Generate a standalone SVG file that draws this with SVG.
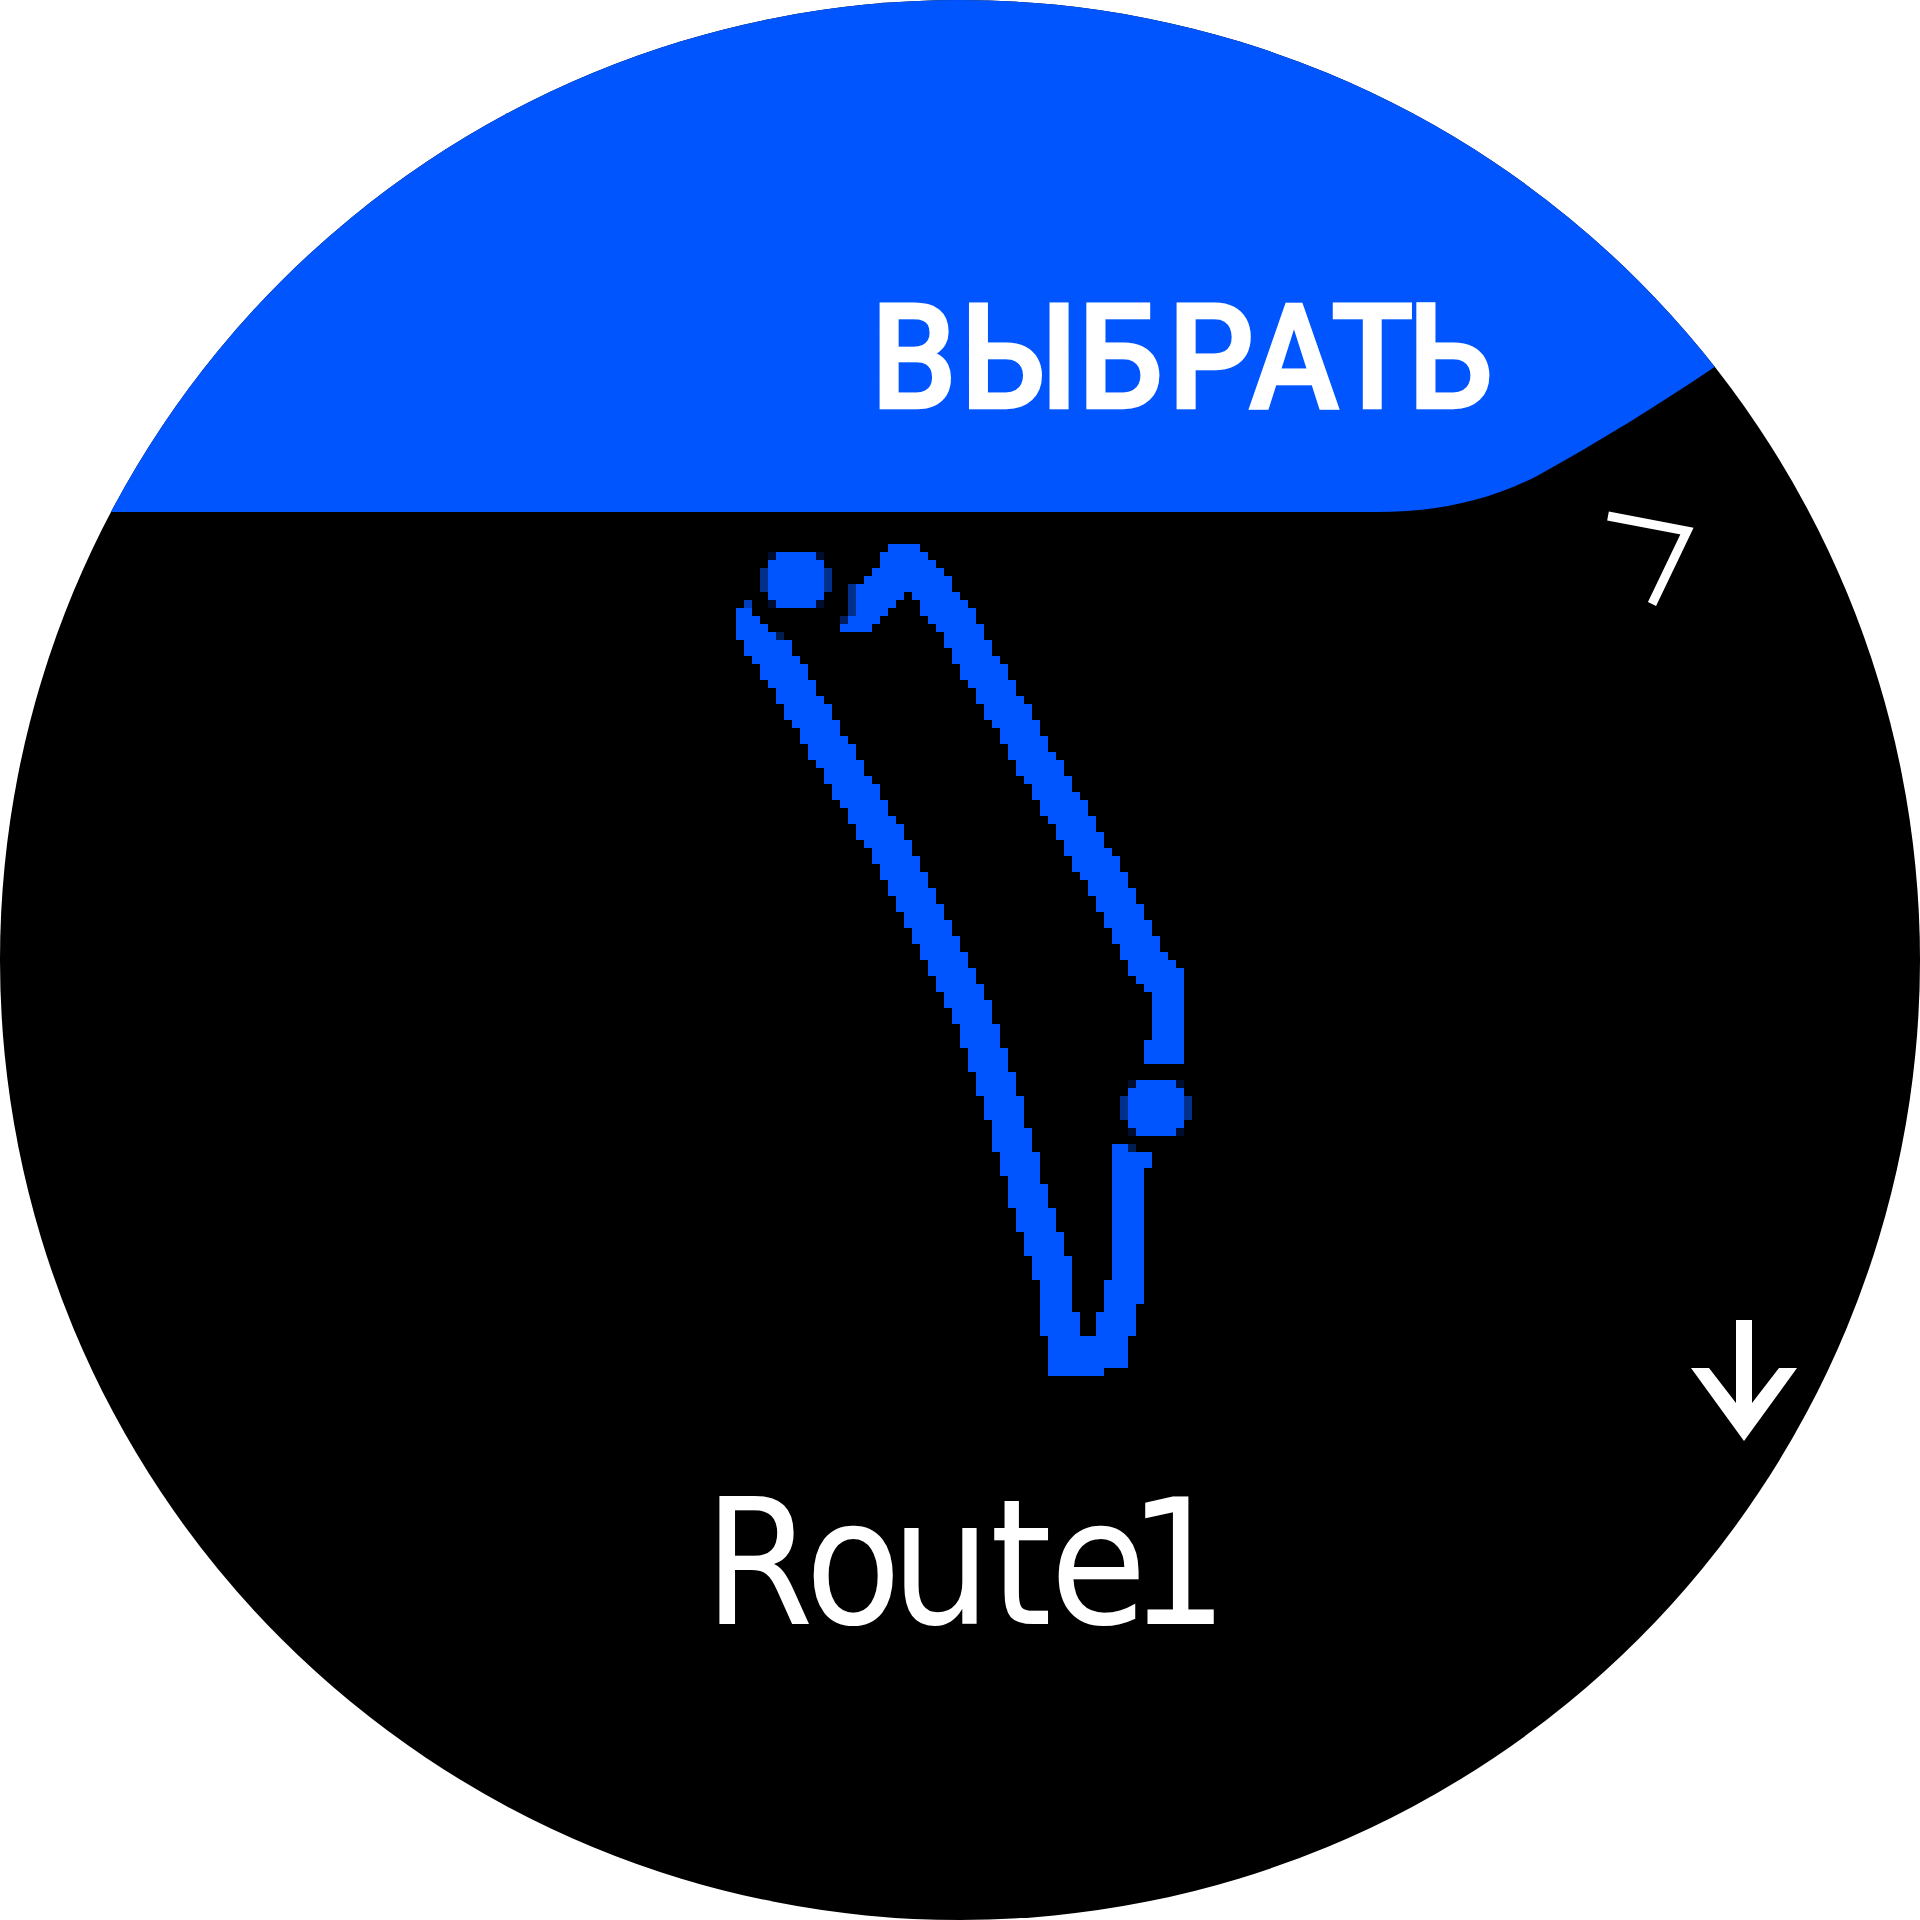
<svg xmlns="http://www.w3.org/2000/svg" width="1920" height="1920" viewBox="0 0 1920 1920">
<style>
.b{fill:#0055ff}
.ic{fill:none;stroke:#fff;stroke-linejoin:miter}
.t{fill:#fff}
</style>
<defs>
<clipPath id="face"><circle cx="960" cy="960" r="960"/></clipPath>
<g id="dot">
<path class="b" d="M8 0H48V8H56V48H48V56H8V48H0V8H8Z"/>
<path fill="#00308c" d="M-8 16H0V40H-8ZM56 16H64V40H56Z"/>
<path fill="#000c30" d="M0 0H8V8H0ZM48 0H56V8H48ZM0 48H8V56H0ZM48 48H56V56H48Z"/>
</g>
</defs>
<rect width="1920" height="1920" fill="#fff"/>
<circle cx="960" cy="960" r="960" fill="#000"/>
<g clip-path="url(#face)">
<path class="b" d="M0 0H1920V200L1716 366C1660 404 1600 441 1537 476C1490 500 1440 512 1376 512H0Z"/>
</g>
<text class="t" id="select" transform="scale(0.93 1)" y="408" font-family="'Roboto','Liberation Sans',sans-serif" font-weight="500" font-size="146" stroke="#fff" stroke-width="2.5" x="936.6 1032.3 1159.1 1255.9 1343 1431.2 1514">ВЫБРАТЬ</text>
<g id="route">
<path class="b" d="M888 544H920V552H928V560H936V568H944V576H952V592H960V600H968V608H976V624H984V640H992V656H1000V664H1008V680H1016V696H1024V704H1032V720H1040V736H1048V752H1056V760H1064V776H1072V792H1080V800H1088V816H1096V832H1104V848H1112V856H1120V872H1128V888H1136V904H1144V920H1152V936H1160V952H1168V960H1176V968H1184V1064H1144V1040H1152V992H1144V984H1136V976H1128V960H1120V944H1112V928H1104V912H1096V896H1088V880H1080V872H1072V856H1064V840H1056V824H1048V816H1040V800H1032V784H1024V776H1016V760H1008V744H1000V728H992V720H984V704H976V688H968V680H960V664H952V648H944V632H936V624H928V616H920V600H912V592H904V600H896V608H888V616H880V624H872V632H840V624H848V616H856V584H864V576H872V568H880V552H888Z"/>
<path fill="#00308c" d="M848 584H856V616H848Z"/>
<path fill="#001e60" d="M840 616H848V624H840Z"/>
<path class="b" d="M736 608H752V616H760V624H768V632H776V640H792V656H800V664H808V680H816V696H824V704H832V720H840V736H848V744H856V760H864V776H872V784H880V800H888V816H896V824H904V840H912V856H920V872H928V888H936V904H944V920H952V936H960V952H968V968H976V984H984V1000H992V1024H1000V1048H1008V1072H1016V1096H1024V1128H1032V1152H1040V1184H1048V1208H1056V1232H1064V1256H1072V1312H1080V1336H1096V1312H1104V1280H1112V1144H1128V1152H1152V1168H1144V1304H1136V1336H1128V1368H1104V1376H1048V1336H1040V1280H1032V1256H1024V1232H1016V1208H1008V1176H1000V1152H992V1120H984V1096H976V1072H968V1048H960V1024H952V1008H944V992H936V976H928V960H920V944H912V928H904V912H896V896H888V880H880V864H872V848H864V840H856V824H848V808H840V800H832V784H824V768H816V760H808V744H800V728H792V720H784V704H776V688H768V680H760V664H752V656H744V640H736Z"/>
<path fill="#0040c0" d="M744 600H752V608H744Z"/>
<path fill="#001e50" d="M1128 1144H1136V1152H1128ZM776 632H784V640H776Z"/>
<use href="#dot" x="768" y="552"/>
<use href="#dot" x="1128" y="1080"/>
</g>
<text class="t" id="name" y="1624" font-family="'DejaVu Sans Condensed','DejaVu Sans',sans-serif" font-size="175" x="704 805 891 990 1050 1128">Route1</text>
<path class="ic" id="up-right" stroke-width="9" d="M1608 516L1687 531L1652 604"/>
<g id="down">
<path fill="#fff" d="M1736 1320H1752V1420H1736Z"/>
<path fill="#fff" d="M1691 1368H1709L1736 1403H1752L1779 1368H1797L1744 1441Z"/>
</g>
</svg>
